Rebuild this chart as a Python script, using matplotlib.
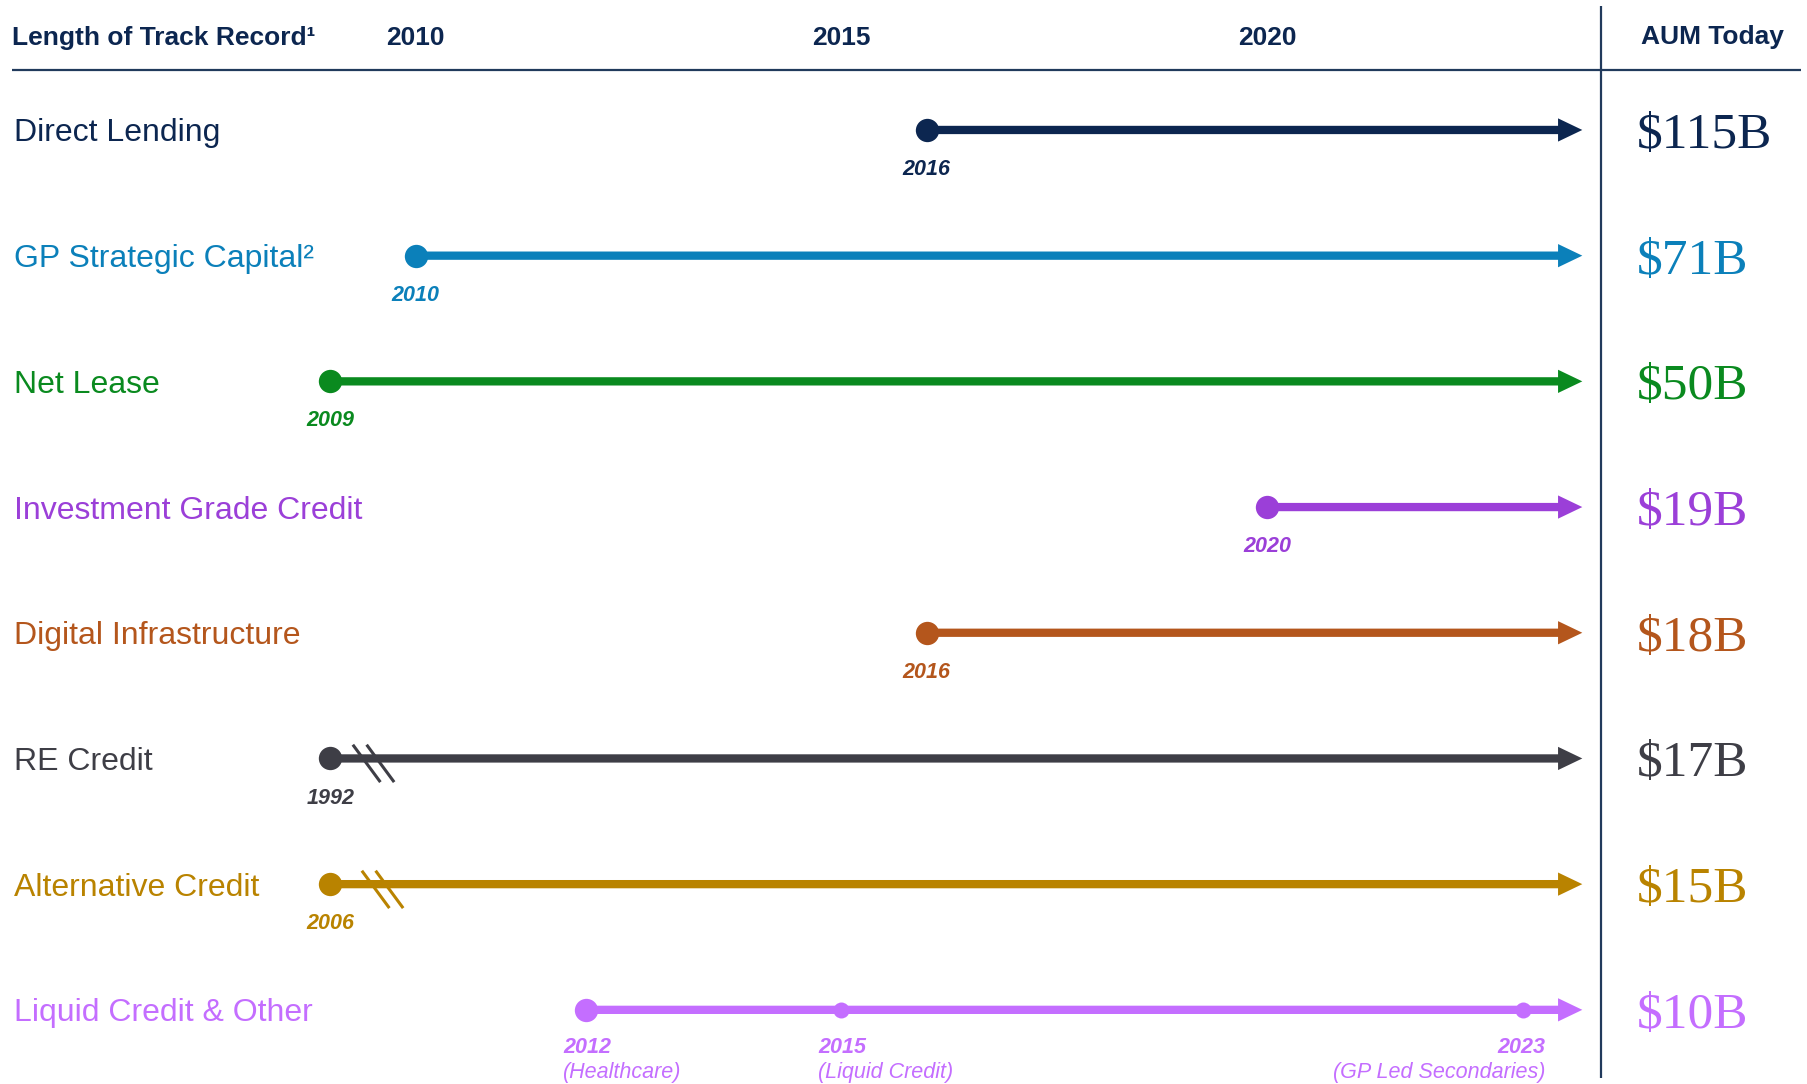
import numpy as np
import matplotlib
matplotlib.use("Agg")
import matplotlib.pyplot as plt
from matplotlib.path import Path

plt.rcParams['font.family'] = ['Liberation Sans', 'DejaVu Sans']

# strategies, first year of track record, AUM today ($B)
strategies = ['Direct Lending', 'GP Strategic Capital\u00b2', 'Net Lease',
              'Investment Grade Credit', 'Digital Infrastructure', 'RE Credit',
              'Alternative Credit', 'Liquid Credit & Other']
start_year = [2016, 2010, 2009, 2020, 2016, 1992, 2006, 2012]
aum = [115, 71, 50, 19, 18, 17, 15, 10]
colors = ['#0c2650', '#0b80ba', '#0a8a1f', '#9b3fd8',
          '#b4561c', '#3e3e46', '#b98300', '#c46eff']

# extra milestones on the last row
lc_years = [2012, 2015, 2023]
lc_notes = ['(Healthcare)', '(Liquid Credit)', '(GP Led Secondaries)']

header_years = [2010, 2015, 2020]
axis_start = 2009      # earlier starts are drawn at the left edge with a break
today = 2023.70

navy = '#0c2650'
rule = '#213a5c'

fig = plt.figure(figsize=(18.08, 10.84), dpi=100)
ax = fig.add_axes([0, 0, 1, 1])
ax.set_xlim(2005.12, 2026.35)
ax.set_ylim(7.590, -1.034)
ax.axis('off')

blend = ax.get_yaxis_transform()  # x in axes fraction, y in data

# header
hy = 0.9645
ax.text(0.0064, hy, 'Length of Track Record\u00b9', transform=ax.transAxes,
        fontsize=19, fontweight='bold', color=navy, ha='left', va='center')
for yr in header_years:
    ax.text(yr, hy, str(yr), transform=ax.get_xaxis_transform(),
            fontsize=19, fontweight='bold', color=navy, ha='center', va='center')
ax.text(0.947, hy + 0.001, 'AUM Today', transform=ax.transAxes,
        fontsize=19, fontweight='bold', color=navy, ha='center', va='center')
ax.plot([0.0064, 0.996], [0.9354, 0.9354], transform=ax.transAxes,
        color=rule, lw=1.6, solid_capstyle='butt')
ax.plot([0.8855, 0.8855], [0.0055, 0.9945], transform=ax.transAxes,
        color=rule, lw=1.6, solid_capstyle='butt')

# two-slash break marker
brk = Path([(-21, 14), (7, -24), (-7, 14), (21, -24)],
           [Path.MOVETO, Path.LINETO, Path.MOVETO, Path.LINETO])

for i, (name, yr, val, c) in enumerate(zip(strategies, start_year, aum, colors)):
    x0 = max(yr, axis_start)
    ax.text(0.0077, i + 0.028, name, transform=blend, fontsize=23, color=c,
            ha='left', va='center')
    ax.arrow(x0, i, today - x0, 0, width=0.066, head_width=0.185,
             head_length=0.285, length_includes_head=True, lw=0, color=c)
    ax.plot(x0, i, 'o', ms=16.8, color=c, mew=0)
    if yr < axis_start:
        ax.plot(x0 + 0.5 + 0.1 * (yr > 2000), i, marker=brk, ms=34, mew=2.2,
                color=c, fillstyle='none', ls='none')
    if name.startswith('Liquid'):
        for j, (ly, note) in enumerate(zip(lc_years, lc_notes)):
            if j > 0:
                ax.plot(ly, i, 'o', ms=11.5, color=c, mew=0)
            left = j < len(lc_years) - 1
            dx = -16.5 if left else 16.5
            ha = 'left' if left else 'right'
            ax.annotate(str(ly), (ly, i), xytext=(dx, -27), textcoords='offset points',
                        fontsize=15.5, fontweight='bold', fontstyle='italic',
                        color=c, ha=ha, va='center')
            ax.annotate(note, (ly, i), xytext=(dx, -45), textcoords='offset points',
                        fontsize=15.5, fontstyle='italic', color=c, ha=ha, va='center')
    else:
        ax.annotate(str(yr), (x0, i), xytext=(0, -28.5), textcoords='offset points',
                    fontsize=15.5, fontweight='bold', fontstyle='italic',
                    color=c, ha='center', va='center')
    ax.text(0.9054, i + 0.045, f'${val}B', transform=blend, fontsize=37, color=c,
            family='Liberation Serif', ha='left', va='center')

fig.savefig('out.png', dpi=100, facecolor='white')
plt.close(fig)
